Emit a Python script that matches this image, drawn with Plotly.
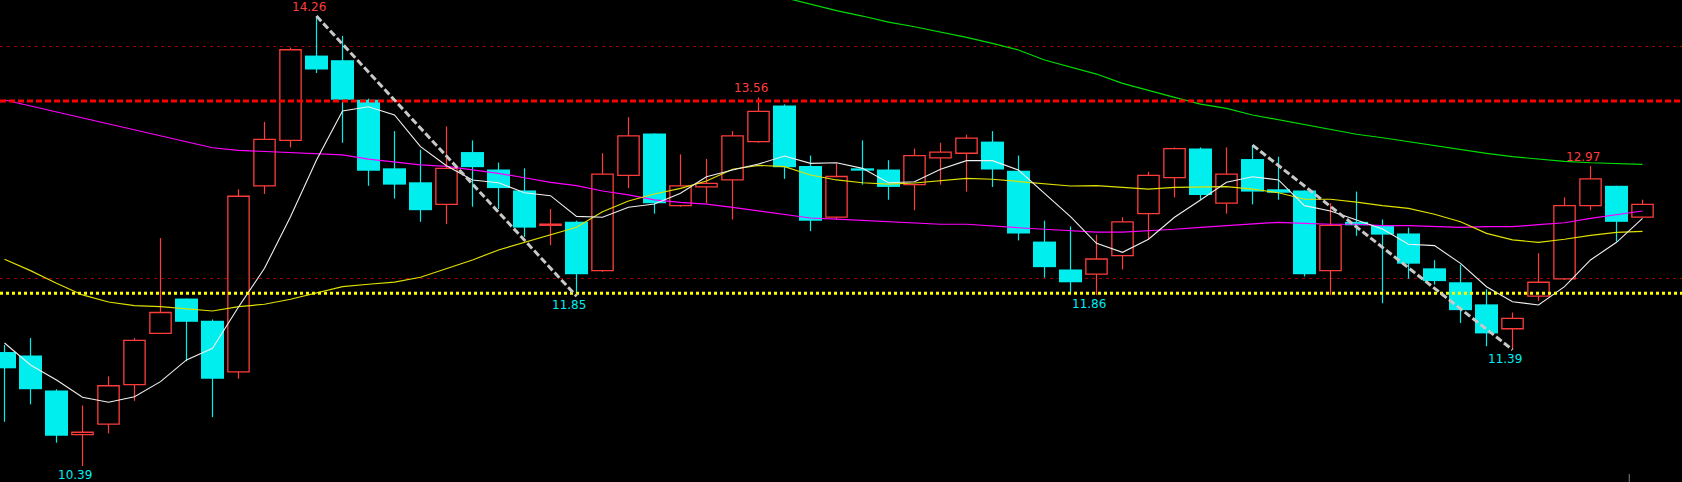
import plotly.graph_objects as go

# ---------------- data (prices) ----------------
opens = [11.37, 11.34, 11.04, 10.66, 10.75, 11.09, 11.53, 11.83, 11.64, 11.20,
         12.80, 13.19, 13.92, 13.88, 13.54, 12.95, 12.83, 12.64, 13.09, 12.94,
         12.76, 12.46, 12.49, 12.07, 12.89, 13.25, 12.63, 12.79, 12.85, 13.18,
         13.49, 12.97, 12.53, 12.95, 12.94, 12.81, 13.04, 13.08, 13.18, 12.93,
         12.32, 12.08, 12.04, 12.20, 12.56, 12.87, 13.12, 12.65, 13.03, 12.77,
         12.76, 12.07, 12.49, 12.46, 12.39, 12.09, 11.97, 11.78, 11.57, 11.85,
         12.00, 12.63, 12.80, 12.53]
highs = [11.43, 11.49, 11.05, 10.91, 11.16, 11.49, 12.35, 11.83, 11.65, 12.77,
         13.35, 13.99, 14.26, 14.09, 13.55, 13.27, 13.11, 13.31, 13.19, 13.00,
         12.95, 12.60, 12.50, 13.08, 13.39, 13.25, 13.07, 13.03, 13.27, 13.56,
         13.50, 13.06, 12.99, 13.19, 13.02, 13.12, 13.17, 13.24, 13.27, 13.06,
         12.50, 12.45, 12.38, 12.53, 12.92, 13.13, 13.13, 13.13, 13.15, 13.05,
         12.76, 12.65, 12.75, 12.51, 12.44, 12.16, 12.12, 11.91, 11.71, 12.22,
         12.70, 12.97, 12.80, 12.68]
lows = [10.77, 10.92, 10.59, 10.39, 10.67, 10.95, 11.53, 11.29, 10.81, 11.14,
        12.73, 13.13, 13.77, 13.17, 12.80, 12.69, 12.49, 12.47, 12.62, 12.60,
        12.36, 12.29, 11.85, 12.06, 12.78, 12.56, 12.62, 12.65, 12.51, 13.17,
        12.86, 12.41, 12.51, 12.81, 12.68, 12.59, 12.81, 12.75, 12.79, 12.33,
        12.01, 11.88, 11.86, 12.08, 12.34, 12.70, 12.68, 12.56, 12.64, 12.68,
        12.02, 11.86, 12.37, 11.79, 12.00, 11.95, 11.62, 11.42, 11.39, 11.81,
        11.99, 12.59, 12.32, 12.53]
closes = [11.23, 11.05, 10.65, 10.68, 11.08, 11.47, 11.71, 11.63, 11.14, 12.71,
          13.20, 13.97, 13.80, 13.54, 12.93, 12.81, 12.59, 12.95, 12.96, 12.78,
          12.44, 12.47, 12.04, 12.90, 13.23, 12.65, 12.80, 12.82, 13.23, 13.44,
          12.96, 12.50, 12.88, 12.93, 12.79, 13.06, 13.09, 13.21, 12.94, 12.39,
          12.10, 11.97, 12.17, 12.49, 12.89, 13.12, 12.72, 12.90, 12.75, 12.74,
          12.04, 12.46, 12.46, 12.38, 12.13, 11.98, 11.73, 11.53, 11.66, 11.97,
          12.63, 12.86, 12.49, 12.64]

ma_white = [11.448, 11.259, 11.130, 10.981, 10.938, 10.986, 11.115, 11.302, 11.402, 11.757,
            12.090, 12.534, 13.022, 13.443, 13.480, 13.409, 13.136, 12.973, 12.850, 12.826,
            12.740, 12.715, 12.537, 12.529, 12.615, 12.643, 12.735, 12.878, 12.936, 12.987,
            13.056, 12.993, 12.998, 12.950, 12.826, 12.835, 12.942, 13.016, 13.016, 12.936,
            12.735, 12.534, 12.305, 12.228, 12.340, 12.529, 12.678, 12.830, 12.878, 12.850,
            12.629, 12.583, 12.506, 12.428, 12.297, 12.285, 12.133, 11.932, 11.803, 11.775,
            11.932, 12.162, 12.314, 12.520]
ma_yellow = [12.168, 12.070, 11.961, 11.861, 11.800, 11.769, 11.760, 11.740, 11.723, 11.760,
             11.781, 11.824, 11.880, 11.932, 11.953, 11.972, 12.013, 12.090, 12.162, 12.248,
             12.314, 12.377, 12.443, 12.577, 12.669, 12.729, 12.778, 12.841, 12.942, 12.976,
             12.964, 12.893, 12.850, 12.826, 12.815, 12.824, 12.847, 12.864, 12.856, 12.838,
             12.821, 12.798, 12.801, 12.787, 12.772, 12.787, 12.789, 12.792, 12.772, 12.740,
             12.684, 12.684, 12.660, 12.629, 12.606, 12.555, 12.491, 12.391, 12.334, 12.314,
             12.340, 12.374, 12.400, 12.408]
ma_magenta = [13.538, 13.486, 13.434, 13.383, 13.331, 13.280, 13.228, 13.176, 13.127, 13.105,
              13.096, 13.088, 13.076, 13.065, 13.030, 13.002, 12.979, 12.967, 12.938, 12.907,
              12.869, 12.830, 12.801, 12.755, 12.721, 12.678, 12.658, 12.643, 12.615, 12.585,
              12.555, 12.523, 12.514, 12.503, 12.488, 12.477, 12.469, 12.469, 12.451, 12.439,
              12.426, 12.414, 12.402, 12.402, 12.411, 12.426, 12.443, 12.457, 12.477, 12.486,
              12.477, 12.469, 12.469, 12.457, 12.457, 12.448, 12.443, 12.448, 12.448, 12.465,
              12.482, 12.520, 12.549, 12.583]
green_start = 30
ma_green = [14.418, 14.362, 14.306, 14.260, 14.208, 14.168, 14.125, 14.077, 14.025, 13.968,
            13.882, 13.824, 13.761, 13.681, 13.618, 13.561, 13.503, 13.466, 13.409, 13.366,
            13.323, 13.280, 13.243, 13.213, 13.179, 13.148, 13.114, 13.079, 13.050, 13.028,
            13.010, 12.998, 12.993, 12.984]

resistance_level = 13.53
support_level = 11.875
trend_pairs = [(12, 22), (48, 58)]      # from high of first candle to low of second
high_marks = [12, 29, 61]
low_marks = [3, 22, 42, 58]
cursor_x = 62.49
cursor_prices = [10.321, 10.25]

# ---------------- styles ----------------
RED = "#ff3c3c"
CYAN = "#00eeee"
BG = "#000000"

n = len(opens)
idx = list(range(n))
up = [closes[i] >= opens[i] for i in idx]

fig = go.Figure()

# wicks
wx_up, wy_up, wx_dn, wy_dn = [], [], [], []
for i in idx:
    top = max(opens[i], closes[i])
    bot = min(opens[i], closes[i])
    if up[i]:
        if highs[i] > top:
            wx_up += [i, i, None]
            wy_up += [highs[i], top, None]
        if lows[i] < bot:
            wx_up += [i, i, None]
            wy_up += [bot, lows[i], None]
    else:
        wx_dn += [i, i, None]
        wy_dn += [highs[i], lows[i], None]

fig.add_trace(go.Scatter(x=wx_up, y=wy_up, mode="lines",
                         line=dict(color=RED, width=1.2), hoverinfo="skip"))
fig.add_trace(go.Scatter(x=wx_dn, y=wy_dn, mode="lines",
                         line=dict(color=CYAN, width=1.2), hoverinfo="skip"))

# bodies
ux = [i for i in idx if up[i]]
dx = [i for i in idx if not up[i]]
fig.add_trace(go.Bar(
    x=ux,
    y=[max(closes[i] - opens[i], 0.008) for i in ux],
    base=[opens[i] for i in ux],
    width=0.82,
    marker=dict(color=BG, line=dict(color=RED, width=1.3)),
    hoverinfo="skip"))
fig.add_trace(go.Bar(
    x=dx,
    y=[max(opens[i] - closes[i], 0.008) for i in dx],
    base=[closes[i] for i in dx],
    width=0.885,
    marker=dict(color=CYAN, line=dict(color=CYAN, width=0)),
    hoverinfo="skip"))

# moving averages
fig.add_trace(go.Scatter(x=idx, y=ma_magenta, mode="lines",
                         line=dict(color="#ff00ff", width=1.2), hoverinfo="skip"))
fig.add_trace(go.Scatter(x=idx, y=ma_yellow, mode="lines",
                         line=dict(color="#e0e000", width=1.2), hoverinfo="skip"))
fig.add_trace(go.Scatter(x=list(range(green_start, green_start + len(ma_green))), y=ma_green,
                         mode="lines", line=dict(color="#00dd00", width=1.2), hoverinfo="skip"))
fig.add_trace(go.Scatter(x=idx, y=ma_white, mode="lines",
                         line=dict(color="#f0f0f0", width=1.1), hoverinfo="skip"))

# horizontal levels
x_lo, x_hi = -0.173, 64.519
fig.add_trace(go.Scatter(x=[x_lo, x_hi], y=[resistance_level] * 2, mode="lines",
                         line=dict(color="#ff0000", width=3, dash="6px,3px"), hoverinfo="skip"))
fig.add_trace(go.Scatter(x=[x_lo, x_hi], y=[support_level] * 2, mode="lines",
                         line=dict(color="#ffff00", width=3, dash="3px,3px"), hoverinfo="skip"))

# trend lines
for a, b in trend_pairs:
    fig.add_trace(go.Scatter(x=[a, b], y=[highs[a], lows[b]], mode="lines",
                             line=dict(color="#c8c8c8", width=3, dash="7px,3px"),
                             hoverinfo="skip"))

# cursor tick
fig.add_trace(go.Scatter(x=[cursor_x, cursor_x], y=cursor_prices, mode="lines",
                         line=dict(color="#808080", width=1), hoverinfo="skip"))

# high / low labels
for i in high_marks:
    fig.add_annotation(x=i - 0.29, y=highs[i], text=f"{highs[i]:.2f}", showarrow=False,
                       xanchor="center", yanchor="middle", yshift=9,
                       font=dict(family="DejaVu Sans", size=12, color=RED))
for i in low_marks:
    fig.add_annotation(x=i - 0.29, y=lows[i], text=f"{lows[i]:.2f}", showarrow=False,
                       xanchor="center", yanchor="middle", yshift=-9,
                       font=dict(family="DejaVu Sans", size=12, color=CYAN))

fig.update_layout(
    width=1682, height=482,
    margin=dict(l=0, r=0, t=0, b=0),
    paper_bgcolor=BG, plot_bgcolor=BG,
    showlegend=False, barmode="overlay", hovermode=False,
    xaxis=dict(range=[x_lo, x_hi], visible=True, showgrid=False, zeroline=False,
               showticklabels=False, showline=False, ticks=""),
    yaxis=dict(range=[10.252, 14.398], showgrid=True, tick0=0, dtick=2,
               gridcolor="#a00000", griddash="3px,4px", gridwidth=1,
               zeroline=False, showticklabels=False, showline=False, ticks=""),
)

fig.write_html("out.html", config={"displayModeBar": False},
               post_script="document.body.style.margin='0';document.body.style.overflow='hidden';")
